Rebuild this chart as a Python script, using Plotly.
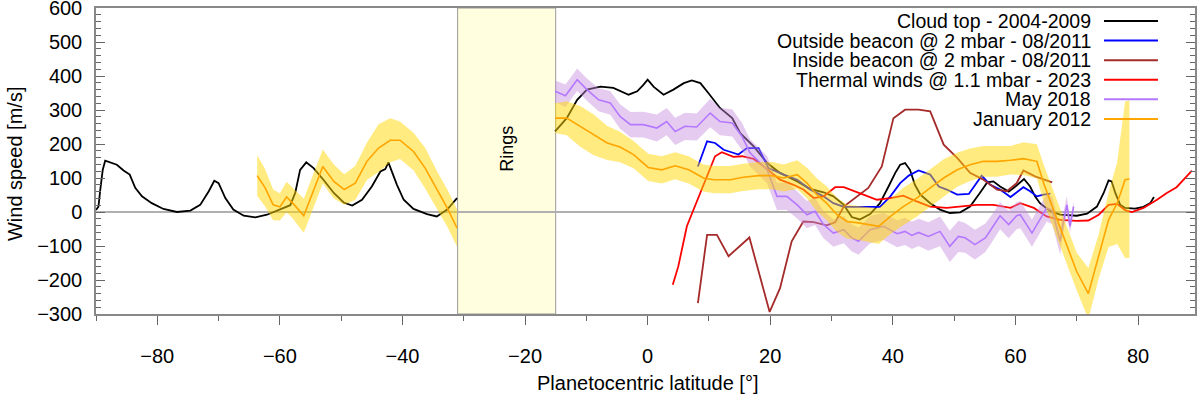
import plotly.graph_objects as go

FONT = "Liberation Sans, Arial, sans-serif"

# Cloud top - 2004-2009 (south and north of the ring shadow)
cloud_lat_s = [-90.0, -89.6, -89.3, -88.9, -88.5, -87.7, -86.6, -85.5, -84.5, -83.6, -82.5, -80.9,
               -79.0, -76.8, -74.6, -73.0, -71.6, -70.7, -70.0, -68.9, -67.6, -65.9, -64.0, -62.1,
               -60.5, -58.3, -57.5, -56.7, -55.7, -54.5, -52.9, -51.2, -49.6, -48.2, -46.6, -45.0,
               -43.6, -42.8, -42.3, -41.7, -40.9, -39.8, -38.2, -36.0, -34.4, -32.7, -31.1]
cloud_wind_s = [6, 16, 66, 124, 151, 146, 139, 122, 110, 71, 46, 26,
                9, 0, 4, 21, 61, 92, 85, 41, 7, -11, -16, -8,
                4, 20, 56, 124, 146, 129, 95, 56, 28, 19, 36, 75,
                119, 126, 146, 115, 80, 36, 9, -6, -13, 7, 41]
cloud_lat_n = [-15.1, -13.2, -11.5, -9.9, -7.7, -5.6, -3.1, -1.7, -0.7, 0.0, 1.0, 2.6, 4.2, 5.9,
               7.2, 8.6, 9.9, 11.8, 13.8, 15.1, 17.3, 19.5, 21.6, 24.4, 26.5, 28.7, 30.3, 32.0,
               33.3, 34.6, 36.3, 37.9, 39.3, 40.4, 41.2, 42.0, 42.8, 43.6, 44.5, 46.1, 47.7, 49.3,
               51.0, 52.6, 54.2, 55.4, 56.4, 57.5, 58.9, 60.0, 61.4, 62.4, 63.2, 64.0, 65.7, 67.3,
               70.0, 71.7, 73.3, 74.4, 75.2, 75.7, 76.3, 77.1, 77.9, 79.0, 79.5, 80.9, 82.0, 82.6]
cloud_wind_n = [237, 276, 330, 360, 369, 365, 345, 355, 374, 389, 368, 345, 360, 379,
                387, 379, 350, 306, 276, 232, 193, 144, 115, 90, 68, 58, 46, 21,
                -15, -22, -6, 26, 75, 115, 139, 144, 124, 80, 51, 26, 7, -3,
                -1, 16, 56, 87, 90, 75, 60, 75, 97, 75, 46, 26, 2, -8,
                -11, -5, 16, 56, 93, 90, 56, 21, 12, 12, 10, 15, 26, 44]

# Outside beacon @ 2 mbar - 08/2011
outside_lat = [8.2, 9.7, 11.0, 12.4, 13.8, 14.8, 16.2, 18.1, 18.9, 19.7, 22.2, 24.4, 26.5, 28.7,
               30.3, 32.0, 34.1, 37.9, 39.6, 41.2, 42.6, 44.2, 46.1, 47.5, 48.8, 50.5, 52.4, 53.4,
               54.5, 55.9, 57.5, 59.2, 60.5, 61.3, 62.4, 63.5, 64.6, 65.7]
outside_wind = [134, 208, 203, 183, 175, 169, 188, 188, 159, 129, 110, 95, 66, 46,
                26, 15, 15, 15, 46, 85, 107, 122, 110, 75, 66, 51, 53, 80,
                107, 80, 66, 44, 61, 73, 61, 46, 51, 54]

# Inside beacon @ 2 mbar - 08/2011
inside_lat = [8.2, 9.7, 11.3, 13.2, 16.6, 19.9, 21.6, 23.5, 25.4, 27.1, 29.2, 30.6, 32.0, 34.1,
              36.0, 38.2, 40.1, 42.0, 44.2, 46.1, 48.3, 50.5, 52.6, 54.8, 57.0, 58.6, 60.2, 61.3,
              63.2, 66.0]
inside_wind = [-268, -67, -67, -130, -75, -294, -224, -86, -28, -30, -39, -30, 16, 46,
               71, 134, 276, 301, 301, 296, 198, 159, 115, 95, 66, 61, 85, 122,
               105, 87]

# Thermal winds @ 1.1 mbar - 2023
thermal_lat = [4.1, 5.0, 6.4, 8.0, 9.7, 11.0, 12.1, 14.0, 15.4, 17.3, 18.6, 20.0, 21.6, 23.8,
               25.4, 27.1, 28.7, 30.6, 32.0, 35.2, 37.4, 39.6, 41.7, 43.9, 46.1, 48.8, 51.5, 53.7,
               56.4, 59.2, 60.8, 63.0, 65.1, 67.3, 70.0, 71.9, 73.6, 75.2, 76.6, 77.9, 79.0, 80.9,
               83.1, 84.7, 86.3, 88.8]
thermal_wind = [-214, -160, -42, 31, 105, 164, 176, 162, 164, 156, 139, 119, 95, 80,
                66, 41, 46, 73, 73, 51, 36, 41, 48, 31, 16, 12, 16, 21,
                21, 12, 26, 12, -13, -23, -26, -25, -8, 21, 24, 5, 0, 12,
                36, 56, 73, 122]

# May 2018 (mean and uncertainty)
may2018_lat = [-15.1, -13.4, -11.5, -9.9, -8.0, -6.1, -4.5, -2.8, -0.7, 1.5, 3.1, 4.5, 6.1, 8.0,
               10.2, 11.8, 13.8, 15.4, 16.7, 18.4, 19.5, 21.1, 22.7, 24.4, 26.0, 27.3, 28.7, 30.3,
               32.0, 33.3, 34.4, 36.3, 38.5, 40.7, 42.0, 43.1, 44.2, 45.8, 47.7, 49.3, 50.7, 51.8,
               53.4, 55.1, 56.4, 57.5, 58.9, 60.2, 60.8, 62.7, 64.3, 65.1, 66.0, 67.3, 67.8, 68.4,
               68.9, 69.5]
may2018_wind = [355, 342, 389, 360, 330, 321, 281, 257, 257, 247, 266, 237, 252, 250,
                291, 266, 262, 222, 174, 144, 124, 46, 46, 21, -8, 2, -37, -62,
                -52, -76, -86, -52, -42, -64, -57, -69, -60, -72, -57, -101, -72, -76,
                -96, -76, -42, -11, -37, -11, -8, -62, -13, 12, 5, -86, -32, 21,
                -42, 16]
may2018_err = [32, 33, 33, 33, 34, 35, 36, 37, 38, 40, 40, 40, 40, 40,
               42, 40, 40, 40, 40, 40, 40, 40, 40, 40, 40, 40, 40, 40,
               40, 40, 40, 40, 40, 40, 40, 40, 40, 42, 44, 46, 46, 44,
               44, 42, 40, 40, 40, 40, 40, 40, 40, 40, 40, 40, 30, 25,
               20, 15]

# January 2012 (mean and uncertainty), south and north parts
jan2012_lat_s = [-63.7, -62.4, -61.1, -60.0, -58.9, -57.9, -56.1, -53.0, -51.2, -49.5, -47.7,
                 -45.8, -43.9, -42.0, -40.4, -38.2, -36.3, -34.4, -32.7, -31.1]
jan2012_wind_s = [107, 71, 21, 15, 44, 26, -11, 134, 90, 66, 85,
                  149, 188, 211, 211, 178, 129, 66, 12, -47]
jan2012_err_s = [60, 55, 45, 40, 45, 45, 50, 50, 50, 45, 50,
                 55, 70, 65, 55, 55, 60, 55, 55, 55]
jan2012_lat_n = [-15.1, -13.2, -11.0, -8.8, -6.6, -4.5, -2.3, 0.1, 2.3, 4.5, 6.7, 9.1, 10.8, 13.5,
                 15.6, 18.1, 20.3, 22.2, 24.4, 26.0, 27.6, 29.2, 30.9, 32.5, 34.4, 37.7, 39.6, 41.7,
                 43.9, 46.1, 48.3, 50.5, 52.6, 54.8, 57.0, 59.2, 61.3, 63.5, 64.6, 66.2, 68.1, 70.0,
                 71.9, 73.6, 75.2, 76.6, 77.9, 78.6]
jan2012_wind_n = [276, 276, 252, 227, 203, 191, 169, 131, 124, 136, 124, 100, 95, 95,
                  102, 107, 107, 100, 110, 85, 51, 26, -8, -28, -32, -42, -13, 16,
                  41, 71, 100, 124, 139, 149, 149, 152, 157, 149, 85, 7, -81, -175,
                  -240, -130, -23, 26, 95, 97]
jan2012_err_n = [44, 50, 60, 60, 50, 45, 40, 40, 40, 40, 40, 40, 40, 40,
                 40, 40, 40, 40, 42, 45, 48, 50, 50, 50, 50, 52, 52, 55,
                 55, 55, 55, 50, 48, 45, 45, 42, 48, 50, 55, 55, 55, 55,
                 75, 65, 80, 120, 230, 232]

legend_labels = ["Cloud top - 2004-2009", "Outside beacon @ 2 mbar - 08/2011",
                 "Inside beacon @ 2 mbar - 08/2011", "Thermal winds @ 1.1 mbar - 2023",
                 "May 2018", "January 2012"]
legend_colors = ["#000000", "#0000ff", "#a52a2a", "#ff0000", "#b478ff", "#ffa500"]

ring_lat = [-31, -15]


def band(lat, wind, err, color):
    upper = [w + e for w, e in zip(wind, err)]
    lower = [w - e for w, e in zip(wind, err)]
    return go.Scatter(x=lat + lat[::-1], y=upper + lower[::-1], fill="toself",
                      fillcolor=color, line=dict(width=0), mode="lines",
                      hoverinfo="skip", showlegend=False)


fig = go.Figure()

fig.add_trace(go.Scatter(x=cloud_lat_s + [None] + cloud_lat_n,
                         y=cloud_wind_s + [None] + cloud_wind_n,
                         mode="lines", line=dict(color=legend_colors[0], width=1.8)))
fig.add_trace(go.Scatter(x=outside_lat, y=outside_wind, mode="lines",
                         line=dict(color=legend_colors[1], width=1.8)))
fig.add_trace(go.Scatter(x=inside_lat, y=inside_wind, mode="lines",
                         line=dict(color=legend_colors[2], width=1.8)))
fig.add_trace(go.Scatter(x=thermal_lat, y=thermal_wind, mode="lines",
                         line=dict(color=legend_colors[3], width=1.8)))

fig.add_trace(band(may2018_lat, may2018_wind, may2018_err, "rgba(200,140,225,0.45)"))
fig.add_trace(go.Scatter(x=may2018_lat, y=may2018_wind, mode="lines",
                         line=dict(color=legend_colors[4], width=1.6)))

fig.add_trace(band(jan2012_lat_s, jan2012_wind_s, jan2012_err_s, "rgba(255,215,0,0.5)"))
fig.add_trace(band(jan2012_lat_n, jan2012_wind_n, jan2012_err_n, "rgba(255,215,0,0.5)"))
fig.add_trace(go.Scatter(x=jan2012_lat_s + [None] + jan2012_lat_n,
                         y=jan2012_wind_s + [None] + jan2012_wind_n,
                         mode="lines", line=dict(color=legend_colors[5], width=1.6)))

# ring shadow band
fig.add_shape(type="rect", xref="x", yref="paper", x0=ring_lat[0], x1=ring_lat[1], y0=0, y1=1,
              fillcolor="#ffffe0", line=dict(color="#999999", width=1), layer="between")
fig.add_annotation(x=sum(ring_lat) / 2, y=185, text="Rings", textangle=-90, showarrow=False,
                   font=dict(family=FONT, size=18, color="black"))

# legend drawn by hand: text right-aligned, line sample on the right
for i, (label, color) in enumerate(zip(legend_labels, legend_colors)):
    yy = 0.9575 - i * 0.0640
    fig.add_annotation(xref="paper", yref="paper", x=0.9072, y=yy, text=label,
                       xanchor="right", yanchor="middle", showarrow=False,
                       font=dict(family=FONT, size=19.5, color="black"))
    fig.add_shape(type="line", xref="paper", yref="paper", x0=0.9172, x1=0.9663,
                  y0=yy, y1=yy, line=dict(color=color, width=2))

# axis titles
fig.add_annotation(xref="paper", yref="paper", x=0.5014, y=-0.2255,
                   text="Planetocentric latitude [°]", showarrow=False,
                   xanchor="center", yanchor="middle",
                   font=dict(family=FONT, size=20, color="black"))
fig.add_annotation(xref="paper", yref="paper", x=-0.0737, y=0.49,
                   text="Wind speed [m/s]", showarrow=False, textangle=-90,
                   xanchor="center", yanchor="middle",
                   font=dict(family=FONT, size=20, color="black"))

fig.update_layout(
    width=1200, height=397,
    margin=dict(l=96, r=5, t=8, b=83, autoexpand=False),
    paper_bgcolor="white", plot_bgcolor="white",
    showlegend=False,
    font=dict(family=FONT, size=20, color="black"),
)
fig.update_xaxes(
    range=[-90, 89.3], tickvals=[-80, -60, -40, -20, 0, 20, 40, 60, 80],
    ticks="outside", ticklen=9, tickcolor="#666666", tickwidth=1.2,
    minor=dict(dtick=10, ticks="outside", ticklen=5, tickcolor="#666666"),
    showline=True, mirror=True, linecolor="#888888", linewidth=1.5,
    showgrid=False, zeroline=False, ticklabelstandoff=14, automargin=False,
    tickfont=dict(size=20),
)
fig.update_yaxes(
    range=[-300, 600], tickvals=[-300, -200, -100, 0, 100, 200, 300, 400, 500, 600],
    ticks="inside", ticklen=9, tickcolor="#666666", tickwidth=1.2,
    minor=dict(dtick=20, ticks="inside", ticklen=5, tickcolor="#666666"),
    showline=True, mirror="ticks", linecolor="#888888", linewidth=1.5,
    showgrid=False, zeroline=True, zerolinecolor="#b0b0b0", zerolinewidth=1.5,
    ticklabelstandoff=8, automargin=False, ticklabeloverflow="allow",
    tickfont=dict(size=20),
)

# the page body has a default 8px margin; drop it so the figure sits at the window corner
fig.write_html("out.html", config={"displayModeBar": False},
               post_script="document.body.style.margin = '0px';")
